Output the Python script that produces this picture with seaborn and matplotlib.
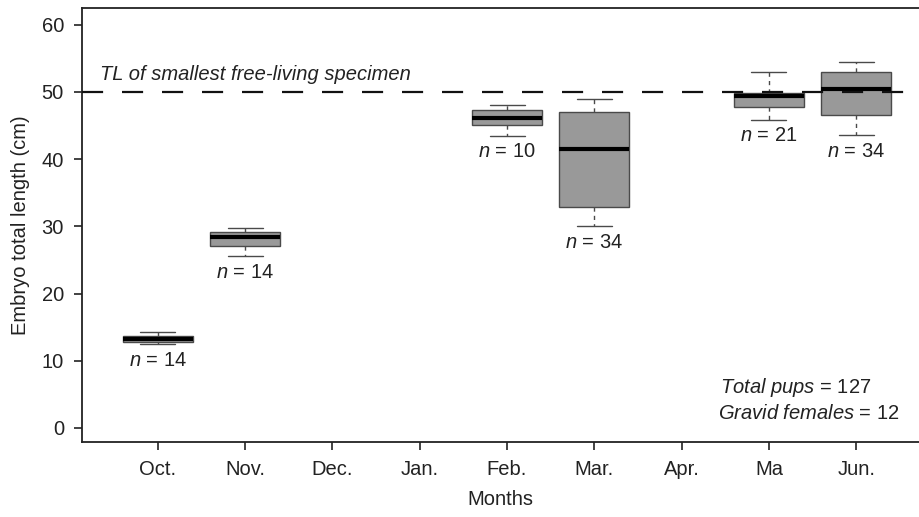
import numpy as np
import matplotlib
matplotlib.use("Agg")
import matplotlib.pyplot as plt
import seaborn as sns
import pandas as pd

# all months on the axis, and the months that have embryos
months = ["Oct.", "Nov.", "Dec.", "Jan.", "Feb.", "Mar.", "Apr.", "Ma", "Jun."]
sampled = ["Oct.", "Nov.", "Feb.", "Mar.", "Ma", "Jun."]

# five-number summaries (cm)
whisker_low = [12.5, 25.6, 43.5, 30.0, 45.9, 43.6]
q1 = [12.8, 27.0, 45.1, 32.9, 47.8, 46.6]
median = [13.2, 28.4, 46.2, 41.5, 49.4, 50.5]
q3 = [13.7, 29.2, 47.3, 47.0, 49.8, 53.0]
whisker_high = [14.3, 29.8, 48.1, 49.0, 53.0, 54.5]
n_pups = [14, 14, 10, 34, 21, 34]

smallest_free_living = 50
total_pups = 127
gravid_females = 12

rows = []
for i, m in enumerate(sampled):
    for v in [whisker_low[i], q1[i], median[i], q3[i], whisker_high[i]]:
        rows.append([m, v])
df = pd.DataFrame(rows, columns=["month", "length"])

sns.set_theme(style="white")
plt.rcParams["font.family"] = ["Liberation Sans", "DejaVu Sans"]
plt.rcParams["mathtext.fontset"] = "custom"
plt.rcParams["mathtext.rm"] = "Liberation Sans"
plt.rcParams["mathtext.it"] = "Liberation Sans:italic"

fs = 14.5
txt = "#222222"

fig = plt.figure(figsize=(9.19, 5.17), dpi=100)
ax = fig.add_axes([82 / 919, 75 / 517, 837 / 919, 434 / 517])

sns.boxplot(
    data=df, x="month", y="length", order=months, ax=ax,
    whis=(0, 100), width=0.8, color="#999999", linecolor="#4a4a4a",
    linewidth=1.0, saturation=1,
    medianprops=dict(color="black", linewidth=3),
    whiskerprops=dict(color="#4a4a4a", linestyle=(0, (3, 3))),
)

# reference line drawn on top of the boxes
ax.axhline(smallest_free_living, color="#111111", lw=1.6,
           linestyle=(0, (9.5, 8.5)), zorder=5)
ax.text(-0.66, 52.6, "TL of smallest free-living specimen", fontsize=fs,
        style="italic", va="center", ha="left", color=txt)

for i, m in enumerate(sampled):
    ax.text(months.index(m), whisker_low[i] - 2.4, r"$\it{n}$ = %d" % n_pups[i],
            ha="center", va="center", fontsize=fs, color=txt)

ax.text(6.44, 6.0, r"$\it{Total\ pups}$ = %d" % total_pups,
        ha="left", va="center", fontsize=fs, color=txt)
ax.text(6.42, 2.1, r"$\it{Gravid\ females}$ = %d" % gravid_females,
        ha="left", va="center", fontsize=fs, color=txt)

ax.set_xlim(-0.87, 8.72)
ax.set_ylim(-2.1, 62.5)
ax.set_yticks([0, 10, 20, 30, 40, 50, 60])
ax.set_xlabel("Months", fontsize=fs, labelpad=8, color=txt)
ax.set_ylabel("Embryo total length (cm)", fontsize=fs, labelpad=8, color=txt)
ax.tick_params(axis="both", direction="out", length=6, width=1.2,
               labelsize=fs, colors=txt, pad=7, left=True, bottom=True)

for side in ["left", "top", "bottom"]:
    ax.spines[side].set_color(txt)
    ax.spines[side].set_linewidth(1.3)
ax.spines["right"].set_visible(False)

plt.savefig("out.png", dpi=100)
